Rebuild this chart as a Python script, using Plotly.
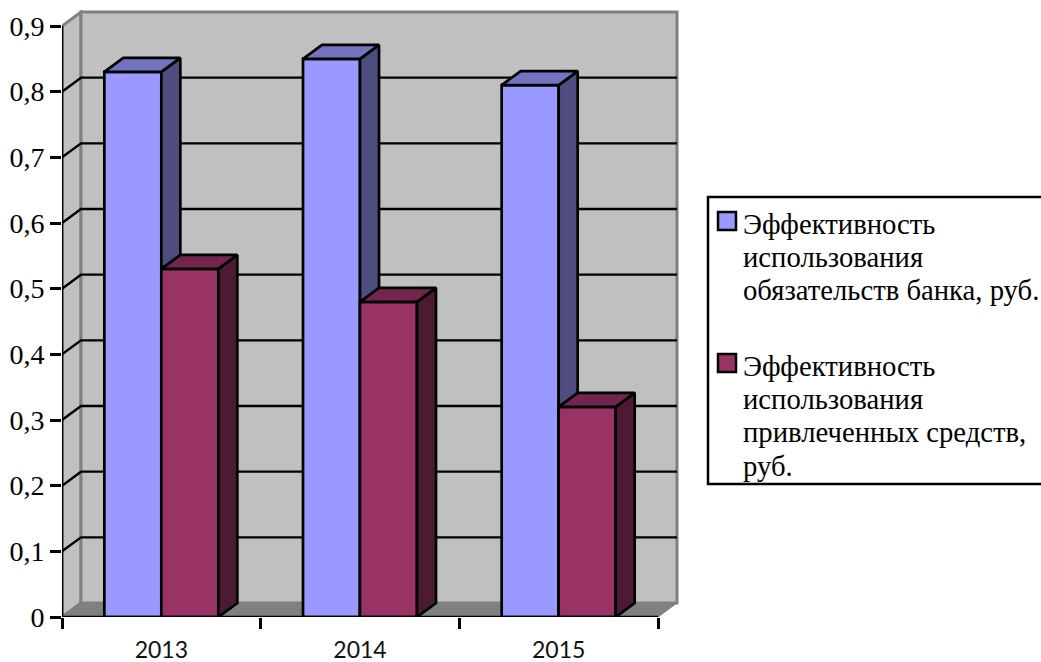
import plotly.graph_objects as go

# Chart data
YEARS = ["2013", "2014", "2015"]
SERIES_1_NAME = "Эффективность использования обязательств банка, руб."
SERIES_2_NAME = "Эффективность использования привлеченных средств, руб."
SERIES_1 = [0.83, 0.85, 0.81]
SERIES_2 = [0.53, 0.48, 0.32]
Y_TICKS = [0, 0.1, 0.2, 0.3, 0.4, 0.5, 0.6, 0.7, 0.8, 0.9]
Y_LABELS = ["0", "0,1", "0,2", "0,3", "0,4", "0,5", "0,6", "0,7", "0,8", "0,9"]
LEGEND_1_LINES = ["Эффективность", "использования", "обязательств банка, руб."]
LEGEND_2_LINES = ["Эффективность", "использования", "привлеченных средств,", "руб."]

# Page and plot-area layout, in pixels
PAGE_W, PAGE_H = 1041, 662
LEFT, BOTTOM_Y, RIGHT, TOP_Y = 62, 617, 680, 10
CAT_PX = 198.67          # width of one category
UNIT_PX = 656.67         # height of one unit on the value axis
DX = 19 / CAT_PX         # depth offset of the pseudo-3D box, x
DY = 14 / UNIT_PX        # depth offset of the pseudo-3D box, y
BAR_W = 57 / CAT_PX
Y_MAX = Y_TICKS[-1]
N = len(YEARS)
INK = 2.7                # outline weight of bars, axes and gridlines

X_RANGE = [0, (RIGHT - LEFT) / CAT_PX]
Y_RANGE = [0, (BOTTOM_Y - TOP_Y) / UNIT_PX]

BLUE = ("#9999FF", "#4D4D80", "#7373BF")
RED = ("#993366", "#4D1A33", "#73264D")
WALL, WALL_EDGE = "#C0C0C0", "#808080"
SERIF = "Liberation Serif"


def poly(points):
    return "M" + "L".join(f"{x},{y}" for x, y in points) + "Z"


def px_x(px):
    return (px - LEFT) / (RIGHT - LEFT)


def px_y(py):
    return (BOTTOM_Y - py) / (BOTTOM_Y - TOP_Y)


fig = go.Figure()
shapes = []

# Box walls and floor
shapes.append(dict(type="path", layer="below", xref="x", yref="y",
                   path=poly([(0, 0), (DX, DY), (DX, Y_MAX + DY), (0, Y_MAX)]),
                   fillcolor=WALL, line=dict(color=WALL_EDGE, width=3)))
shapes.append(dict(type="path", layer="below", xref="x", yref="y",
                   path=poly([(DX, DY), (N + DX, DY), (N + DX, Y_MAX + DY), (DX, Y_MAX + DY)]),
                   fillcolor=WALL, line=dict(color=WALL_EDGE, width=3)))
shapes.append(dict(type="path", layer="below", xref="x", yref="y",
                   path=poly([(0, 0), (N, 0), (N + DX, DY), (DX, DY)]),
                   fillcolor=WALL_EDGE, line=dict(color=WALL_EDGE, width=1)))

# Gridlines running across the side wall and along the back wall
for v in Y_TICKS[1:-1]:
    shapes.append(dict(type="path", layer="below", xref="x", yref="y",
                       path=f"M0,{v}L{DX},{v + DY}L{N + DX},{v + DY}",
                       line=dict(color="black", width=2.4)))


def add_series(values, name, colours, offset, xa, ya):
    """Front faces as bars, side and top faces as filled polygons."""
    front, side, top = colours
    xs = [i + 0.5 + offset for i in range(N)]
    fig.add_trace(go.Bar(x=xs, y=values, width=BAR_W, name=name, xaxis=xa, yaxis=ya,
                         marker=dict(color=front, line=dict(color="black", width=INK)),
                         showlegend=False))
    for xc, v in zip(xs, values):
        x0, x1 = xc - BAR_W / 2, xc + BAR_W / 2
        for px, py, col in (
            ([x1, x1 + DX, x1 + DX, x1, x1], [0, DY, v + DY, v, 0], side),
            ([x0, x0 + DX, x1 + DX, x1, x0], [v, v + DY, v + DY, v, v], top),
        ):
            fig.add_trace(go.Scatter(x=px, y=py, mode="lines", fill="toself", fillcolor=col,
                                     line=dict(color="black", width=INK), xaxis=xa, yaxis=ya,
                                     showlegend=False, hoverinfo="skip"))


# Second series sits on an overlaid axis pair so it covers the first series' side faces
add_series(SERIES_1, SERIES_1_NAME, BLUE, -BAR_W / 2, "x", "y")
add_series(SERIES_2, SERIES_2_NAME, RED, BAR_W / 2, "x2", "y2")

# Axis lines stop at the front edge of the box
for ax_x, ax_y in (([0, 0], [0, Y_MAX]), ([0, N], [0, 0])):
    fig.add_trace(go.Scatter(x=ax_x, y=ax_y, mode="lines", xaxis="x2", yaxis="y2",
                             line=dict(color="black", width=INK), cliponaxis=False,
                             showlegend=False, hoverinfo="skip"))

# Legend box and swatches
shapes.append(dict(type="rect", xref="paper", yref="paper",
                   x0=px_x(708), x1=px_x(1046), y0=px_y(484), y1=px_y(197),
                   fillcolor="white", line=dict(color="black", width=2.5)))
annotations = []
for colours, sw_top, lines, first_y in (
    (BLUE, 211, LEGEND_1_LINES, 224),
    (RED, 353, LEGEND_2_LINES, 366),
):
    shapes.append(dict(type="rect", xref="paper", yref="paper",
                       x0=px_x(718), x1=px_x(736), y0=px_y(sw_top + 19), y1=px_y(sw_top + 1),
                       fillcolor=colours[0], line=dict(color="black", width=2.5)))
    for i, line in enumerate(lines):
        annotations.append(dict(text=line, xref="paper", yref="paper", showarrow=False,
                                x=px_x(741.5), y=px_y(first_y + i * 33.2), xanchor="left",
                                yanchor="middle", borderpad=0, align="left",
                                font=dict(family=SERIF, size=28.7, color="black")))

fig.update_layout(
    width=PAGE_W, height=PAGE_H, autosize=False,
    margin=dict(l=LEFT, r=PAGE_W - RIGHT, t=TOP_Y, b=PAGE_H - BOTTOM_Y, pad=0),
    paper_bgcolor="white", plot_bgcolor="white",
    shapes=shapes, annotations=annotations, showlegend=False,
    xaxis=dict(range=X_RANGE, showgrid=False, zeroline=False, showline=False,
               automargin=False,
               tickmode="array", tickvals=[i + 0.5 for i in range(N)], ticktext=YEARS,
               ticks="", ticklabelstandoff=17,
               tickfont=dict(family="Lato", size=23, color="#111111"),
               minor=dict(tickmode="array", tickvals=list(range(N + 1)), ticks="outside",
                          ticklen=11, tickwidth=INK, tickcolor="black", showgrid=False)),
    yaxis=dict(range=Y_RANGE, showgrid=False, zeroline=False, showline=False,
               automargin=False,
               tickmode="array", tickvals=Y_TICKS, ticktext=Y_LABELS,
               ticks="outside", ticklen=11, tickwidth=INK, tickcolor="black",
               tickfont=dict(family=SERIF, size=28, color="black")),
    xaxis2=dict(range=X_RANGE, overlaying="x", visible=False),
    yaxis2=dict(range=Y_RANGE, overlaying="y", visible=False),
)

fig.write_html("out.html")
